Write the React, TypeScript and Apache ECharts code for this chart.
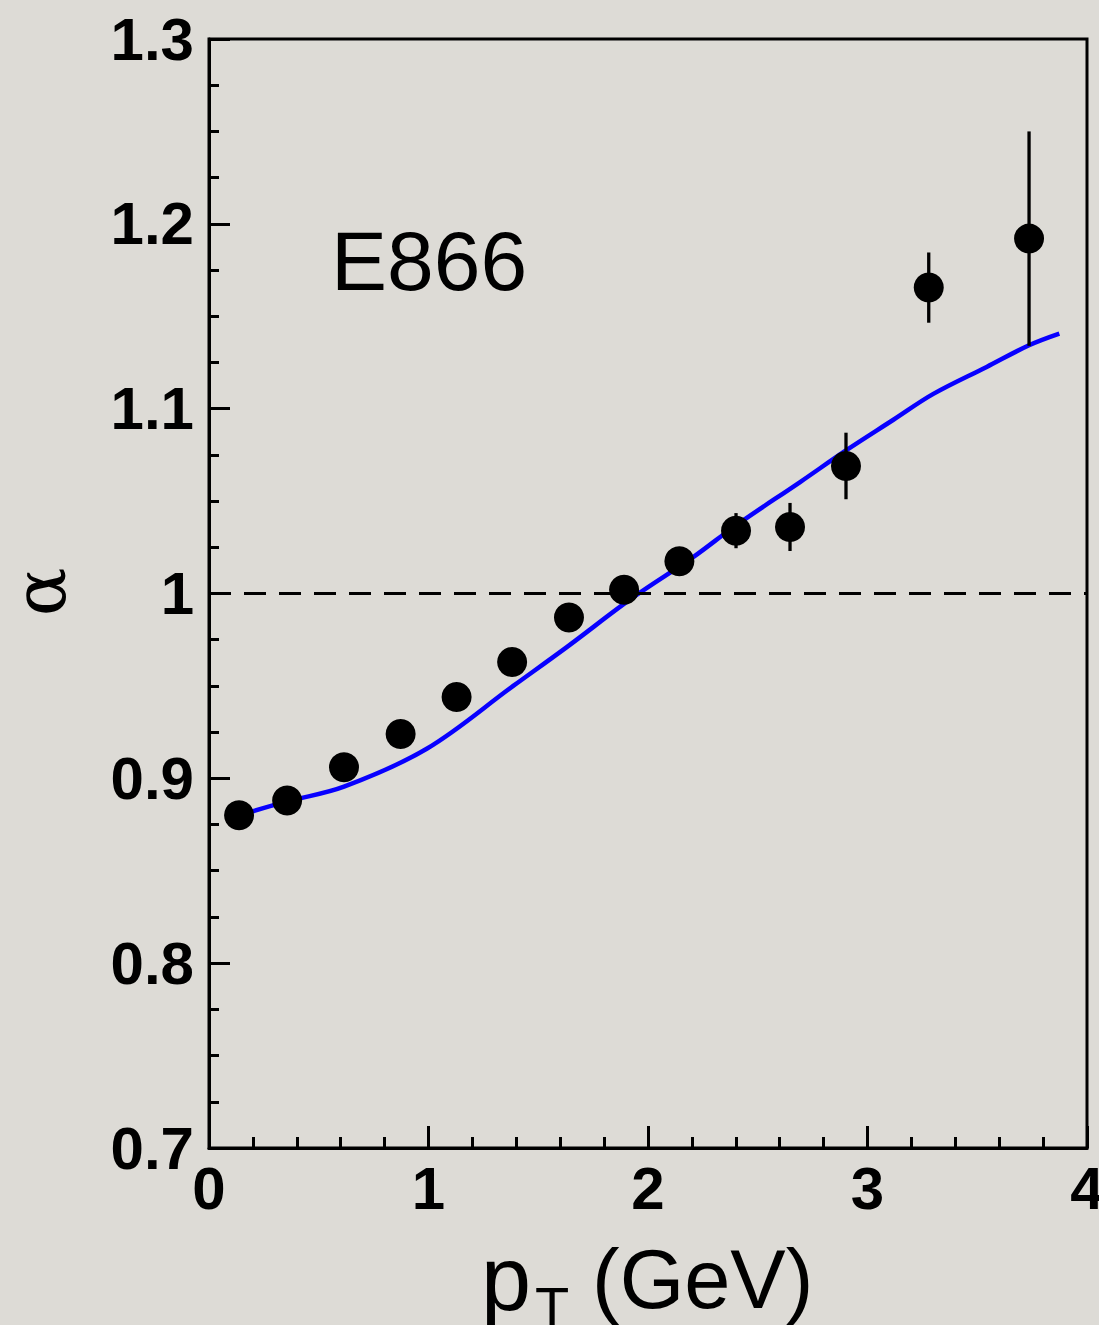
import React, { useEffect, useRef } from "react";
import * as echarts from "echarts";

// E866 measurements of alpha versus transverse momentum
const ptValues = [0.137, 0.356, 0.615, 0.873, 1.128, 1.381, 1.64, 1.891, 2.143, 2.401, 2.647, 2.902, 3.279, 3.736];
const alphaValues = [0.88, 0.888, 0.906, 0.924, 0.944, 0.963, 0.987, 1.002, 1.0175, 1.034, 1.036, 1.069, 1.1655, 1.192];
const alphaErrors = [0.004, 0.004, 0.004, 0.004, 0.004, 0.004, 0.004, 0.005, 0.005, 0.0095, 0.013, 0.018, 0.019, 0.058];

// Model curve
const curvePt = [0.137, 0.356, 0.615, 0.992, 1.386, 1.63, 1.933, 2.206, 2.4, 2.693, 2.902, 3.118, 3.3, 3.543, 3.736, 3.874];
const curveAlpha = [0.88, 0.8875, 0.8955, 0.916, 0.95, 0.971, 0.998, 1.0197, 1.0368, 1.0603, 1.0774, 1.094, 1.108, 1.1226, 1.1343, 1.1406];

const referenceAlpha = 1;

const W = 1099;
const H = 1325;

export default function App() {
  const ref = useRef<HTMLDivElement>(null);

  useEffect(() => {
    if (!ref.current) return;
    const chart = echarts.init(ref.current, undefined, { renderer: "svg", width: W, height: H });

    const points = ptValues.map((x, i) => [x, alphaValues[i]]);
    const bars = ptValues.map((x, i) => [x, alphaValues[i] - alphaErrors[i], alphaValues[i] + alphaErrors[i]]);
    const curve = curvePt.map((x, i) => [x, curveAlpha[i]]);

    const tickFont = {
      fontFamily: "Liberation Sans, Arial, sans-serif",
      fontWeight: "bold" as const,
      fontSize: 60,
      color: "#000",
    };
    const sans = "Liberation Sans, Arial, sans-serif";

    chart.setOption({
      animation: false,
      backgroundColor: "#dddbd6",
      grid: {
        left: 209,
        top: 39,
        width: 878,
        height: 1109,
        containLabel: false,
        outerBoundsMode: "none",
        show: true,
        borderColor: "#000",
        borderWidth: 3,
        backgroundColor: "transparent",
      },
      xAxis: {
        type: "value",
        min: 0,
        max: 4,
        interval: 1,
        axisLine: { show: true, lineStyle: { color: "#000", width: 3 } },
        axisTick: { show: true, inside: true, length: 22, lineStyle: { color: "#000", width: 3 } },
        minorTick: { show: true, splitNumber: 5, length: 11, lineStyle: { color: "#000", width: 3 } },
        splitLine: { show: false },
        axisLabel: { ...tickFont, margin: 10, verticalAlign: "top" },
      },
      yAxis: {
        type: "value",
        min: 0.7,
        max: 1.3,
        interval: 0.1,
        axisLine: { show: true, lineStyle: { color: "#000", width: 3 } },
        axisTick: { show: true, inside: true, length: 21, lineStyle: { color: "#000", width: 3 } },
        minorTick: { show: true, splitNumber: 4, length: 10, lineStyle: { color: "#000", width: 3 } },
        splitLine: { show: false },
        axisLabel: { ...tickFont, margin: 15 },
      },
      graphic: [
        {
          type: "text",
          x: 331,
          y: 261,
          style: {
            text: "E866",
            fontFamily: sans,
            fontSize: 84,
            fill: "#000",
            align: "left",
            verticalAlign: "middle",
          },
        },
        {
          type: "text",
          x: 40,
          y: 592,
          rotation: Math.PI / 2,
          style: {
            text: "α",
            fontFamily: "DejaVu Serif, serif",
            fontSize: 72,
            fill: "#000",
            align: "center",
            verticalAlign: "middle",
          },
        },
        {
          type: "text",
          x: 481,
          y: 1279,
          style: {
            text: "p",
            fontFamily: sans,
            fontSize: 90,
            fill: "#000",
            align: "left",
            verticalAlign: "middle",
          },
        },
        {
          type: "text",
          x: 535,
          y: 1306,
          style: {
            text: "T",
            fontFamily: sans,
            fontSize: 56,
            fill: "#000",
            align: "left",
            verticalAlign: "middle",
          },
        },
        {
          type: "text",
          x: 592,
          y: 1279,
          style: {
            text: "(GeV)",
            fontFamily: sans,
            fontSize: 83,
            fill: "#000",
            align: "left",
            verticalAlign: "middle",
          },
        },
      ],
      series: [
        {
          type: "line",
          data: [],
          markLine: {
            silent: true,
            symbol: "none",
            label: { show: false },
            lineStyle: { color: "#000", width: 3, type: [22, 13] },
            data: [{ yAxis: referenceAlpha }],
          },
        },
        {
          type: "line",
          data: curve,
          smooth: 0.35,
          showSymbol: false,
          lineStyle: { color: "#0800ff", width: 4.5 },
          z: 3,
        },
        {
          type: "custom",
          data: bars,
          z: 4,
          renderItem: (params: any, api: any) => {
            const lo = api.coord([api.value(0), api.value(1)]);
            const hi = api.coord([api.value(0), api.value(2)]);
            return {
              type: "line",
              shape: { x1: lo[0], y1: lo[1], x2: hi[0], y2: hi[1] },
              style: { stroke: "#000", lineWidth: 3.3 },
            };
          },
        },
        {
          type: "scatter",
          data: points,
          symbol: "circle",
          symbolSize: 30,
          itemStyle: { color: "#000", opacity: 1 },
          z: 5,
        },
      ],
    });

    return () => chart.dispose();
  }, []);

  return (
    <div
      ref={ref}
      style={{ position: "fixed", left: 0, top: 0, width: W, height: H }}
    />
  );
}
